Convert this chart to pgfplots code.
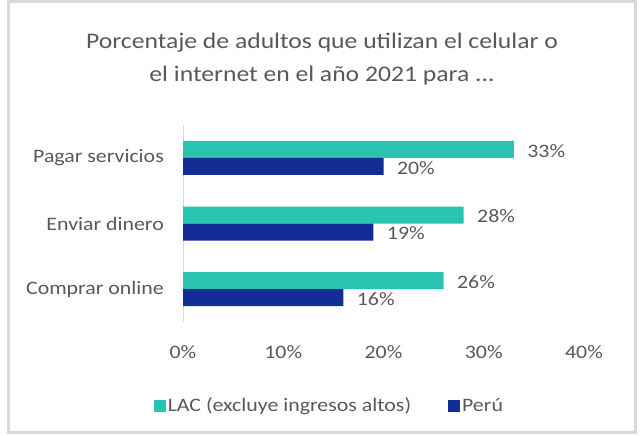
\documentclass[border=0pt]{standalone}
\usepackage{fontspec}
\setmainfont{Carlito}[FakeStretch=1.15]
\usepackage{pgfplots}
\pgfplotsset{compat=1.18}
\definecolor{lac}{RGB}{40,196,176}
\definecolor{peru}{RGB}{18,46,150}
\definecolor{txt}{RGB}{89,89,89}
\definecolor{framegray}{RGB}{217,217,217}
\begin{document}
\begin{tikzpicture}
\useasboundingbox (0,0) rectangle (640bp,436bp);
\fill[white] (0,0) rectangle (640bp,436bp);
\draw[framegray, line width=3bp] (8.5bp,3bp) rectangle (635.5bp,434.5bp);
\node[txt, font=\fontsize{22.3bp}{33bp}\selectfont, align=center] at (322bp,377bp)
  {Porcentaje de adultos que utilizan el celular o\\el internet en el año 2021 para ...};
\begin{axis}[
  at={(183bp,114bp)}, anchor=south west,
  scale only axis, width=401bp, height=197bp,
  xbar, bar width=17bp,
  xmin=0, xmax=40, ymin=-0.5, ymax=2.5,
  separate axis lines,
  axis x line*=bottom, axis y line*=left,
  x axis line style={draw=none},
  y axis line style={draw=framegray, line width=1bp, -},
  major tick length=0pt,
  ytick={0,1,2},
  yticklabels={Comprar online, Enviar dinero, Pagar servicios},
  xtick={0,10,20,30,40},
  xticklabel={\pgfmathprintnumber{\tick}\%},
  /pgf/number format/assume math mode=true,
  tick label style={txt, font=\fontsize{19bp}{23bp}\selectfont},
  yticklabel style={anchor=east, inner xsep=0pt, xshift=-19bp},
  xticklabel style={anchor=center, yshift=-29.7bp},
  nodes near coords={\pgfmathprintnumber{\pgfplotspointmeta}\%},
  nodes near coords style={txt, font=\fontsize{19bp}{23bp}\selectfont, anchor=west, xshift=10bp, yshift=-1.5bp},
  legend columns=2,
  legend style={at={(0.365,-0.425)}, anchor=center, draw=none, fill=none,
    font=\fontsize{19bp}{23bp}\selectfont, text=txt,
    /tikz/every even column/.append style={column sep=35bp}},
  legend image code/.code={\fill[#1] (0bp,-6bp) rectangle (12bp,6bp);},
]
\addplot[fill=lac, draw=none, bar shift=8.5bp] coordinates {(26,0) (28,1) (33,2)};
\addlegendentry{LAC (excluye ingresos altos)}
\addplot[fill=peru, draw=none, bar shift=-8.5bp] coordinates {(16,0) (19,1) (20,2)};
\addlegendentry{Perú}
\end{axis}
\end{tikzpicture}
\end{document}
